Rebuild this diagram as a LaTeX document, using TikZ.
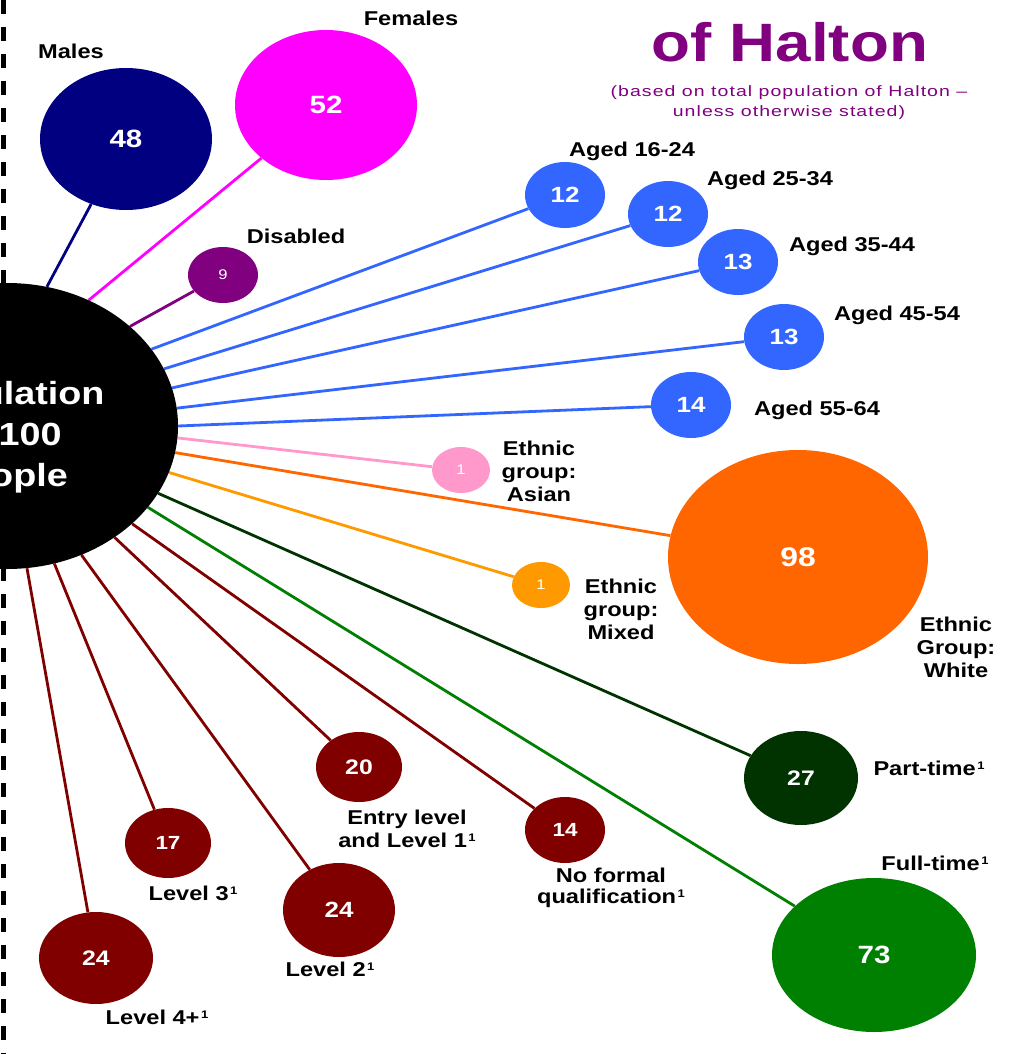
\documentclass[tikz,border=0pt]{standalone}
\usepackage{fontspec}
\setmainfont{Liberation Sans}[FakeStretch=1.18]
\newfontfamily\subfont{Liberation Sans}[FakeStretch=1.3,LetterSpace=7]
\usetikzlibrary{shapes.geometric,backgrounds}
\definecolor{cnavy}{HTML}{000080}
\definecolor{cmagenta}{HTML}{FF00FF}
\definecolor{cpurple}{HTML}{800080}
\definecolor{cblue}{HTML}{3366FF}
\definecolor{cpink}{HTML}{FF99CC}
\definecolor{corange}{HTML}{FF6600}
\definecolor{camber}{HTML}{FF9900}
\definecolor{cdkgreen}{HTML}{003300}
\definecolor{cgreen}{HTML}{008000}
\definecolor{cmaroon}{HTML}{800000}
\newcommand\fsz[1]{\fontsize{#1}{#1}\selectfont}
\newcommand\supone{\kern1.5pt\raisebox{6pt}{\fontsize{11}{11}\selectfont 1}}
\begin{document}
\begin{tikzpicture}[x=1pt,y=-1pt,
  bub/.style={ellipse,inner sep=0pt,text=white},
  nb/.style={font=\bfseries\fsz{#1}},
  nr/.style={font=\fsz{#1}},
  lbl/.style={font=\bfseries\fontsize{20}{23}\selectfont,align=center,inner sep=0pt,text=black},
  conn/.style={line width=2.8pt},
]
\begin{scope}[on background layer]
\fill[white] (0,0) rectangle (1013,1054);
\end{scope}
\useasboundingbox (0,0) rectangle (1013,1054);
\clip (0,0) rectangle (1013,1054);

% left dashed rule
\draw[line width=5pt,dash pattern=on 14pt off 13pt] (3,0) -- (3,1054);

% central circle
\node[bub,fill=black,minimum width=342pt,minimum height=286pt] (big) at (7,426) {};
\node[font=\bfseries\fontsize{32}{41}\selectfont,text=white,align=center] (poptext) at (7,437) {Population\\of 100\\people};

% bubbles
\node[bub,fill=cnavy,minimum width=172pt,minimum height=142pt,nb=25] (males) at (126,139) {48};
\node[bub,fill=cmagenta,minimum width=182pt,minimum height=150pt,nb=25] (females) at (326,105) {52};
\node[bub,fill=cpurple,minimum width=70pt,minimum height=56pt,nr=14] (disabled) at (223,275) {9};
\node[bub,fill=cblue,minimum width=80pt,minimum height=66pt,nb=22] (a1) at (565,195) {12};
\node[bub,fill=cblue,minimum width=80pt,minimum height=66pt,nb=22] (a2) at (668,214) {12};
\node[bub,fill=cblue,minimum width=80pt,minimum height=66pt,nb=22] (a3) at (738,262) {13};
\node[bub,fill=cblue,minimum width=80pt,minimum height=66pt,nb=22] (a4) at (784,337) {13};
\node[bub,fill=cblue,minimum width=80pt,minimum height=66pt,nb=22] (a5) at (691,405) {14};
\node[bub,fill=cpink,minimum width=58pt,minimum height=46pt,nr=14] (asian) at (461,470) {1};
\node[bub,fill=camber,minimum width=58pt,minimum height=46pt,nr=14] (mixed) at (541,585) {1};
\node[bub,fill=corange,minimum width=260pt,minimum height=214pt,nb=27] (white) at (798,557) {98};
\node[bub,fill=cdkgreen,minimum width=114pt,minimum height=94pt,nb=21] (part) at (801,778) {27};
\node[bub,fill=cgreen,minimum width=204pt,minimum height=154pt,nb=25] (full) at (874,955) {73};
\node[bub,fill=cmaroon,minimum width=80pt,minimum height=66pt,nb=19] (noq) at (565,830) {14};
\node[bub,fill=cmaroon,minimum width=86pt,minimum height=70pt,nb=21] (entry) at (359,767) {20};
\node[bub,fill=cmaroon,minimum width=86pt,minimum height=70pt,nb=19] (lev3) at (168,843) {17};
\node[bub,fill=cmaroon,minimum width=112pt,minimum height=94pt,nb=22] (lev2) at (339,910) {24};
\node[bub,fill=cmaroon,minimum width=114pt,minimum height=92pt,nb=21] (lev4) at (96,958) {24};

% connectors
\begin{scope}[on background layer]
\draw[conn,cnavy] (big.74) -- (males);
\draw[conn,cmagenta] (big.57) -- (females);
\draw[conn,cpurple] (big.39) -- (disabled);
\draw[conn,cblue] (big.28) -- (a1);
\draw[conn,cblue] (big.20) -- (a2);
\draw[conn,cblue] (big.13) -- (a3);
\draw[conn,cblue] (big.6) -- (a4);
\draw[conn,cblue] (big.0) -- (a5);
\draw[conn,cpink] (big.-4) -- (asian);
\draw[conn,corange] (big.-9) -- (white);
\draw[conn,camber] (big.-16) -- (mixed);
\draw[conn,cdkgreen] (big.-24) -- (part);
\draw[conn,cgreen] (big.-30) -- (full);
\draw[conn,cmaroon] (big.-38) -- (noq);
\draw[conn,cmaroon] (big.-46) -- (entry);
\draw[conn,cmaroon] (big.-60) -- (lev2);
\draw[conn,cmaroon] (big.-71) -- (lev3);
\draw[conn,cmaroon] (big.-82) -- (lev4);
\end{scope}

% labels
\node[lbl] (lmales) at (71,51) {Males};
\node[lbl] (lfemales) at (411,18) {Females};
\node[lbl] (ldisabled) at (296,236) {Disabled};
\node[lbl] (la1) at (632,151) {Aged 16-24};
\node[lbl] (la2) at (770,180) {Aged 25-34};
\node[lbl] (la3) at (852,246) {Aged 35-44};
\node[lbl] (la4) at (897,315) {Aged 45-54};
\node[lbl] (la5) at (817,410) {Aged 55-64};
\node[lbl] (lasian) at (539,471) {Ethnic\\group:\\Asian};
\node[lbl] (lmixed) at (621,609) {Ethnic\\group:\\Mixed};
\node[lbl] (lwhite) at (956,647) {Ethnic\\Group:\\White};
\node[lbl] (lpart) at (929,768) {Part-time\supone};
\node[lbl] (lfull) at (935,863) {Full-time\supone};
\node[lbl] (lentry) at (407,829) {Entry level\\and Level 1\supone};
\node[lbl,font=\bfseries\fontsize{20}{21}\selectfont] (lnoq) at (611,888) {No formal\\qualification\supone};
\node[lbl] (llev3) at (193,893) {Level 3\supone};
\node[lbl] (llev2) at (330,969) {Level 2\supone};
\node[lbl] (llev4) at (157,1017) {Level 4+\supone};

% title
\node[font=\bfseries\fsz{54},text=cpurple,anchor=base,inner sep=0pt] (title) at (790,62) {of Halton};
\node[font=\subfont\fontsize{15}{20}\selectfont,text=cpurple,align=center,inner sep=0pt] (sub) at (789,103) {(based on total population of Halton –\\unless otherwise stated)};
\end{tikzpicture}
\end{document}
